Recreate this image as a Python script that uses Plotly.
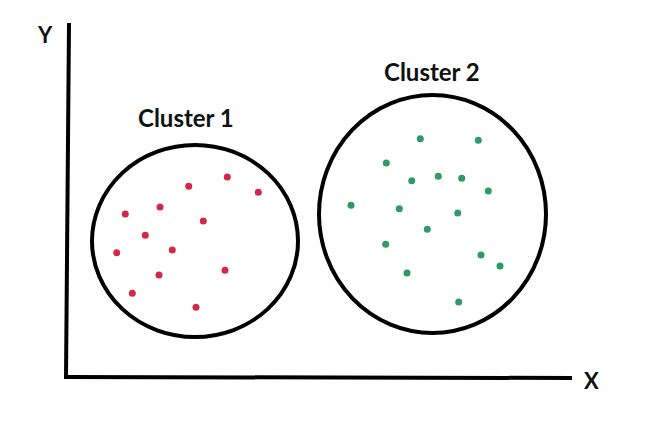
import plotly.graph_objects as go

W, H = 663, 437
OFF = 8  # default page margin of the browser body

# Cluster 1 points (x, y with y measured upward)
c1_x = [227.3, 258.3, 188.7, 160.0, 125.3, 203.3, 145.3, 116.7, 172.3, 225.0, 159.0, 132.3, 196.0]
c1_y_px = [177.0, 192.3, 186.3, 207.0, 214.0, 221.0, 235.3, 252.7, 250.0, 270.3, 275.0, 293.3, 307.3]
# Cluster 2 points
c2_x = [420.3, 478.3, 386.3, 411.7, 438.3, 461.7, 488.3, 351.0, 399.3, 457.7, 427.3, 385.7, 481.0, 500.0, 407.0, 458.7]
c2_y_px = [138.7, 140.3, 163.0, 180.7, 176.3, 178.3, 191.0, 205.3, 208.7, 213.0, 229.3, 244.3, 255.0, 266.0, 273.0, 302.0]

c1_y = [H - v for v in c1_y_px]
c2_y = [H - v for v in c2_y_px]

cluster_labels = ["Cluster 1", "Cluster 2"]
axis_labels = ["X", "Y"]

fig = go.Figure()
fig.add_trace(go.Scatter(x=c1_x, y=c1_y, mode="markers",
                         marker=dict(size=7, color="#d02a48", line=dict(width=0)),
                         showlegend=False, hoverinfo="skip"))
fig.add_trace(go.Scatter(x=c2_x, y=c2_y, mode="markers",
                         marker=dict(size=7, color="#2e9a66", line=dict(width=0)),
                         showlegend=False, hoverinfo="skip"))

# cluster boundaries
fig.add_shape(type="circle", xref="x", yref="y", x0=92, x1=298, y0=H - 337, y1=H - 145,
              line=dict(color="black", width=4))
fig.add_shape(type="circle", xref="x", yref="y", x0=319, x1=546, y0=H - 333, y1=H - 95,
              line=dict(color="black", width=4))

# hand-drawn axes
fig.add_shape(type="line", xref="x", yref="y", x0=66, y0=H - 378, x1=69, y1=H - 23,
              line=dict(color="black", width=4))
fig.add_shape(type="line", xref="x", yref="y", x0=64, y0=H - 377, x1=572, y1=H - 378,
              line=dict(color="black", width=4))

font_cl = dict(family="Lato, Open Sans, sans-serif", size=24, color="#111111")
font_ax = dict(family="Lato, Open Sans, sans-serif", size=22, color="#111111")
fig.add_annotation(x=186, y=H - 117, text="<b>" + cluster_labels[0] + "</b>", showarrow=False, font=font_cl)
fig.add_annotation(x=432, y=H - 71, text="<b>" + cluster_labels[1] + "</b>", showarrow=False, font=font_cl)
fig.add_annotation(x=591, y=H - 380, text="<b>" + axis_labels[0] + "</b>", showarrow=False, font=font_ax)
fig.add_annotation(x=45, y=H - 34, text="<b>" + axis_labels[1] + "</b>", showarrow=False, font=font_ax)

fig.update_layout(
    width=W - OFF, height=H - OFF,
    margin=dict(l=0, r=0, t=0, b=0),
    paper_bgcolor="white", plot_bgcolor="white",
    xaxis=dict(range=[OFF, W], visible=False, fixedrange=True),
    yaxis=dict(range=[0, H - OFF], visible=False, fixedrange=True),
)

fig.write_html("out.html")
